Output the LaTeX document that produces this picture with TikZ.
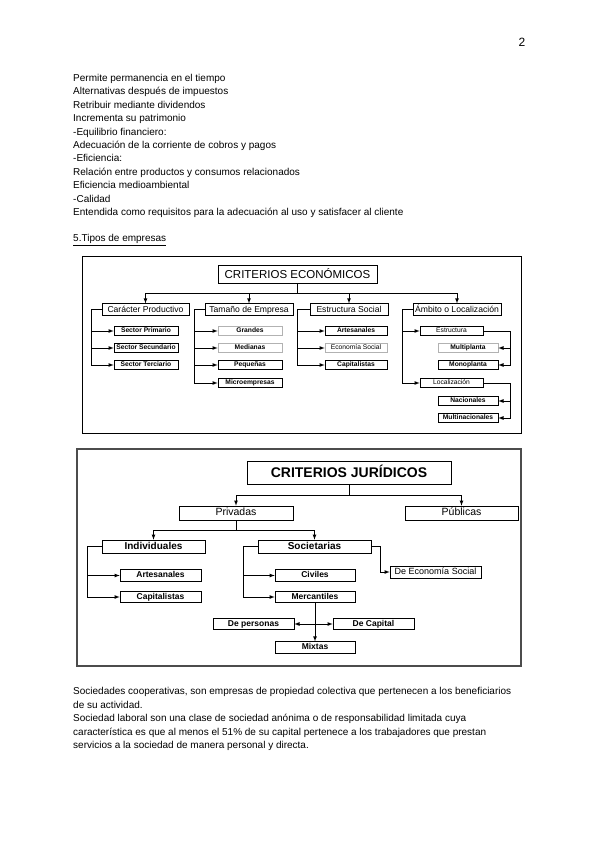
\documentclass[tikz,border=0pt]{standalone}
\usepackage{fontspec}
\setmainfont{Liberation Sans}
\usetikzlibrary{arrows}
\usetikzlibrary{shadows}
\tikzset{l/.style={font=\fontsize{10}{10}\selectfont}}
\tikzset{txt/.style={l,anchor=base west,inner sep=0}}
\tikzset{bx/.style={draw,fill=white,inner sep=0,line width=.6pt,
  drop shadow={shadow xshift=.7pt,shadow yshift=-.7pt,fill=black!75,opacity=1}}}
\tikzset{eco/.style={bx,minimum width=159,minimum height=18,text height=8.3pt,text depth=0pt,font=\fontsize{11.5}{11.5}\selectfont}}
\tikzset{ea/.style={bx,minimum height=11.5,text height=6.2pt,text depth=1.2pt,font=\fontsize{8.6}{8.6}\selectfont}}
\tikzset{eb/.style={bx,minimum height=9,text height=4.9pt,text depth=1.2pt,font=\fontsize{6.7}{6.7}\selectfont\bfseries}}
\tikzset{ec/.style={eb,font=\fontsize{6.7}{6.7}\selectfont}}
\tikzset{pale/.style={draw=black!30}}
\tikzset{jt/.style={bx,minimum width=204,minimum height=23,text height=10.2pt,text depth=0pt,font=\fontsize{14}{14}\selectfont\bfseries}}
\tikzset{ja/.style={bx,minimum height=14,text height=7.6pt,text depth=2pt,font=\fontsize{10.5}{10.5}\selectfont}}
\tikzset{jb/.style={bx,minimum height=13,text height=7.2pt,text depth=2pt,font=\fontsize{10}{10}\selectfont\bfseries}}
\tikzset{jc/.style={bx,minimum width=81,minimum height=11.5,text height=6.2pt,text depth=1.6pt,font=\fontsize{8.5}{8.5}\selectfont\bfseries}}
\tikzset{c/.style={->,line width=.8pt}}

\begin{document}
\begin{tikzpicture}[x=1pt,y=-1pt,>=latex]
        \useasboundingbox (0,0) rectangle (600,848);
        \fill[white] (0,0) rectangle (600,848);
        \node[font=\fontsize{12}{12}\selectfont,anchor=base,inner sep=0] (pg) at (522,47) {2};
        \foreach \t [count=\i from 0] in {Permite permanencia en el tiempo,
            Alternativas después de impuestos, Retribuir mediante dividendos,
            Incrementa su patrimonio, -Equilibrio financiero:,
            Adecuación de la corriente de cobros y pagos, -Eficiencia:,
            Relación entre productos y consumos relacionados, Eficiencia medioambiental,
            -Calidad, Entendida como requisitos para la adecuación al uso y satisfacer al cliente}
          \node[txt] (p\i) at (73,81.5+13.4*\i) {\t};
        \node[txt] (tipos) at (73,241.5) {\underline{5.Tipos de empresas}};
        % criterios economicos
        \draw[line width=1pt] (82,256) rectangle (521,433);
        \node[eco] (ECO) at (297.5,274) {CRITERIOS ECONÓMICOS};
        \node[ea,minimum width=87] (CP) at (145.5,309.5) {Carácter Productivo};
        \node[ea,minimum width=88] (TE) at (249,309.5) {Tamaño de Empresa};
        \node[ea,minimum width=78] (ES) at (349,309.5) {Estructura Social};
        \node[ea,minimum width=88] (AL) at (457,309.5) {Ámbito o Localización};
        \foreach \n in {CP,TE,ES,AL}
          \draw[c] (ECO.south) -- ++(0,10) -| (\n.north);
        \node[eb,minimum width=64] (SP) at (146,331) {Sector Primario};
        \node[eb,minimum width=64] (SS) at (146,348) {Sector Secundario};
        \node[eb,minimum width=64] (ST) at (146,365) {Sector Terciario};
        \node[eb,pale,minimum width=64] (GR) at (250,331) {Grandes};
        \node[eb,pale,minimum width=64] (ME) at (250,348) {Medianas};
        \node[eb,minimum width=64] (PE) at (250,365) {Pequeñas};
        \node[eb,minimum width=64] (MI) at (250,383) {Microempresas};
        \node[eb,minimum width=62] (AR) at (356,331) {Artesanales};
        \node[ec,pale,minimum width=62] (EC) at (356,348) {Economía Social};
        \node[eb,minimum width=62] (CA) at (356,365) {Capitalistas};
        \node[ec,minimum width=63] (EST) at (451.5,331) {Estructura};
        \node[ec,minimum width=63] (LOC) at (451.5,383) {Localización};
        \node[eb,pale,minimum width=60] (MP) at (468,348) {Multiplanta};
        \node[eb,minimum width=60] (MO) at (468,365) {Monoplanta};
        \node[eb,minimum width=60] (NA) at (468,401) {Nacionales};
        \node[eb,minimum width=60] (MU) at (468,418) {Multinacionales};
        \foreach \n in {SP,SS,ST}
          \draw[c] (CP.west) -- ++(-10,0) |- (\n.west);
        \foreach \n in {GR,ME,PE,MI}
          \draw[c] (TE.west) -- ++(-10,0) |- (\n.west);
        \foreach \n in {AR,EC,CA}
          \draw[c] (ES.west) -- ++(-12,0) |- (\n.west);
        \foreach \n in {EST,LOC}
          \draw[c] (AL.west) -- ++(-10,0) |- (\n.west);
        \foreach \n in {MP,MO}
          \draw[c] (EST.east) -- ++(27,0) |- (\n.east);
        \foreach \n in {NA,MU}
          \draw[c] (LOC.east) -- ++(27,0) |- (\n.east);
        % criterios juridicos
        \draw[line width=1.5pt,black!70] (77,449) rectangle (521,666);
        \node[jt] (JUR) at (349,472.5) {CRITERIOS JURÍDICOS};
        \node[ja,minimum width=114] (PRI) at (236,513) {Privadas};
        \node[ja,minimum width=113] (PUB) at (461.5,513) {Públicas};
        \draw[c] (JUR.south) -- ++(0,11) -| (PRI.north);
        \draw[c] (JUR.south) -- ++(0,11) -| (PUB.north);
        \node[jb,minimum width=103] (IND) at (153.5,546.5) {Individuales};
        \node[jb,minimum width=113] (SOC) at (314.5,546.5) {Societarias};
        \draw[c] (PRI.south) -- ++(0,10) -| (IND.north);
        \draw[c] (PRI.south) -- ++(0,10) -| (SOC.north);
        \node[jc] (ART) at (160.5,575.5) {Artesanales};
        \node[jc] (CAP) at (160.5,597) {Capitalistas};
        \node[jc,minimum width=80] (CIV) at (315,575.5) {Civiles};
        \node[jc,minimum width=80] (MER) at (315,597) {Mercantiles};
        \node[jc,minimum width=91,minimum height=12,font=\fontsize{9}{9}\selectfont] (DES) at (435.5,572) {De Economía Social};
        \node[jc] (DP) at (253.5,624) {De personas};
        \node[jc] (DC) at (373.5,624) {De Capital};
        \node[jc,minimum width=80] (MIX) at (315,647.5) {Mixtas};
        \foreach \n in {ART,CAP}
          \draw[c] (IND.west) -- ++(-14,0) |- (\n.west);
        \foreach \n in {CIV,MER}
          \draw[c] (SOC.west) -- ++(-14,0) |- (\n.west);
        \draw[c] (SOC.east) -- ++(9,0) |- (DES.west);
        \draw[c] (MER.south) -- (MIX.north);
        \draw[c] (MER.south |- DP.east) -- (DP.east);
        \draw[c] (MER.south |- DC.west) -- (DC.west);
        \foreach \t [count=\i from 0] in {{Sociedades cooperativas, son empresas de propiedad colectiva que pertenecen a los beneficiarios},
            de su actividad.,
            Sociedad laboral son una clase de sociedad anónima o de responsabilidad limitada cuya,
            característica es que al menos el 51\% de su capital pertenece a los trabajadores que prestan,
            servicios a la sociedad de manera personal y directa.}
          \node[txt] (q\i) at (73,694.5+13.5*\i) {\t};
      \end{tikzpicture}
\end{document}
